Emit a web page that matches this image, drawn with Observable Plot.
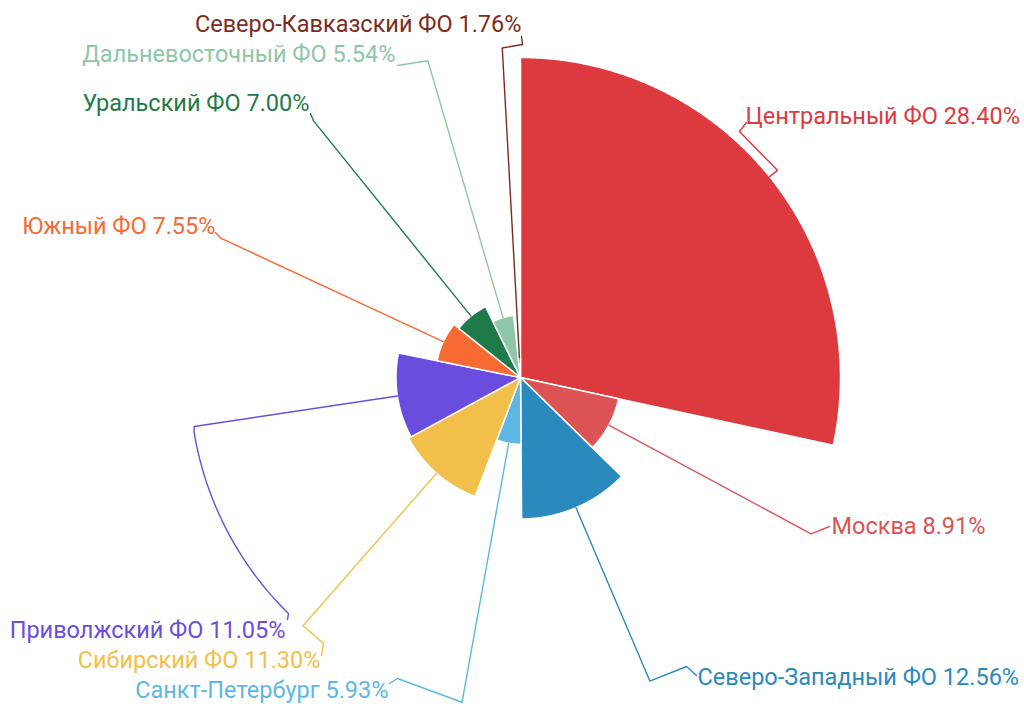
<!DOCTYPE html>
<html>
<head>
<meta charset="utf-8">
<script src="https://cdn.jsdelivr.net/npm/d3@7"></script>
<script src="https://cdn.jsdelivr.net/npm/@observablehq/plot@0.6"></script>
<style>
  html, body { margin: 0; padding: 0; background: #ffffff; }
  #chart { width: 1024px; height: 704px; }
</style>
</head>
<body>
<div id="chart"></div>
<script>
// ---- Data ----
const regions = [
  "Центральный ФО",
  "Москва",
  "Северо-Западный ФО",
  "Санкт-Петербург",
  "Сибирский ФО",
  "Приволжский ФО",
  "Южный ФО",
  "Уральский ФО",
  "Дальневосточный ФО",
  "Северо-Кавказский ФО"
];
const shares = [28.40, 8.91, 12.56, 5.93, 11.30, 11.05, 7.55, 7.00, 5.54, 1.76];
const colors = ["#dc3a3e", "#dc5355", "#2a8abd", "#5db6e3", "#f2c04a",
                "#6a4ddf", "#f76a33", "#1f7a4a", "#8dc7a7", "#7a2c1f"];

// ---- Layout (label placement, pixels) ----
const W = 1024, H = 704;
const cx = 520, cy = 377, maxR = 320, lineR = 330;
const labelLayout = [
  {x: 745, y: 116, anchor: "start", bends: [[739, 131]], end: [746, 122]},
  {x: 831, y: 526, anchor: "start", bends: [], end: [829, 526]},
  {x: 697, y: 677, anchor: "start", bends: [[686, 666]], end: [696, 675]},
  {x: 388, y: 690, anchor: "end", bends: [[397, 678]], end: [389, 683]},
  {x: 320, y: 660, anchor: "end", bends: [[323, 643]], end: [321, 655]},
  {x: 285, y: 630, anchor: "end", arcTo: 224.5, bends: [], end: [287, 619]},
  {x: 215, y: 226, anchor: "end", bends: [], end: [215, 232]},
  {x: 309, y: 103, anchor: "end", bends: [], end: [310, 113]},
  {x: 395, y: 54, anchor: "end", bends: [], end: [397, 65]},
  {x: 521, y: 24, anchor: "end", bends: [[522, 44]], end: [521, 36]}
];

const total = d3.sum(shares);
const rScale = d3.scaleLinear([0, d3.max(shares)], [0, maxR]);
const polar = (deg, r) => {
  const a = deg * Math.PI / 180;
  return [cx + r * Math.sin(a), cy - r * Math.cos(a)];
};

const slicePts = [];
const lines = [];
const labels = [];
let cum = 0;
regions.forEach((name, i) => {
  const a0 = cum / total * 360;
  const a1 = (cum + shares[i]) / total * 360;
  cum += shares[i];
  const r = rScale(shares[i]);
  const n = Math.max(2, Math.ceil((a1 - a0) / 0.5));
  slicePts.push({name, i, x: cx, y: cy});
  for (let k = 0; k <= n; k++) {
    const [x, y] = polar(a0 + (a1 - a0) * k / n, r);
    slicePts.push({name, i, x, y});
  }
  slicePts.push({name, i, x: cx, y: cy});

  const mid = (a0 + a1) / 2;
  const L = labelLayout[i];
  const pts = [polar(mid, r), polar(mid, lineR)];
  if (L.arcTo !== undefined) {
    const m = 40;
    for (let k = 1; k <= m; k++) pts.push(polar(mid + (L.arcTo - mid) * k / m, lineR + 1));
  }
  L.bends.forEach(p => pts.push(p));
  pts.push(L.end);
  pts.forEach(([x, y]) => lines.push({name, i, x, y}));

  labels.push({name, i, x: L.x, y: L.y, anchor: L.anchor,
               text: `${name} ${shares[i].toFixed(2)}%`});
});

const colorOf = i => colors[i];

const marks = [];
regions.forEach((name, i) => {
  marks.push(Plot.line(slicePts.filter(d => d.i === i), {
    x: "x", y: "y", fill: colorOf(i), stroke: "#ffffff", strokeWidth: 1.5,
    strokeLinejoin: "round", curve: "linear"
  }));
});
regions.forEach((name, i) => {
  marks.push(Plot.line(lines.filter(d => d.i === i), {
    x: "x", y: "y", stroke: colorOf(i), strokeWidth: 1.4, curve: "linear"
  }));
});
["start", "end"].forEach(anchor => {
  marks.push(Plot.text(labels.filter(d => d.anchor === anchor), {
    x: "x", y: "y", text: "text", textAnchor: anchor,
    fill: d => colorOf(d.i), fontSize: 23.5, fontWeight: 400,
    fontFamily: "Roboto, sans-serif"
  }));
});

const chart = Plot.plot({
  width: W, height: H,
  margin: 0,
  x: {domain: [0, W], range: [0, W], axis: null},
  y: {domain: [0, H], range: [0, H], axis: null},
  style: {background: "#ffffff", fontFamily: "Roboto, sans-serif"},
  marks
});
document.getElementById("chart").appendChild(chart);
</script>
</body>
</html>
